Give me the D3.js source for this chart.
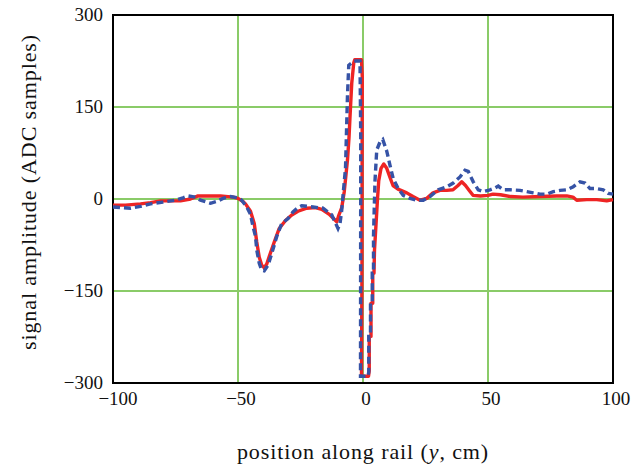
<!DOCTYPE html>
<html>
<head>
<meta charset="utf-8">
<script src="https://cdn.jsdelivr.net/npm/d3@7"></script>
<style>
  body { margin: 0; background: #fff; }
  svg { display: block; }
  .grid line { stroke: #8acb68; stroke-width: 2; }
  .tick-label { font-family: "Liberation Serif", "Times New Roman", serif; font-size: 19px; fill: #111; }
  .title { font-family: "Liberation Serif", "Times New Roman", serif; font-size: 22px; fill: #111; letter-spacing: 0.9px; }
</style>
</head>
<body>
<div id="chart"></div>
<script>
// tick values
var xTicks = [-100, -50, 0, 50, 100];
var yTicks = [-300, -150, 0, 150, 300];

// red (solid) trace: position (cm) and amplitude (ADC samples)
var redPos = [-100, -95, -89, -85, -81, -73, -69, -66, -60, -57, -52, -50, -48, -47, -45, -43.5, -42.5, -41.5, -40.5, -39.5,
  -38.5, -37.2, -35.5, -33.5, -31, -28.5, -26, -22.5, -19, -16.5, -13.5, -11.5, -10.5, -9.8, -8.5, -7.5, -6.8, -6.2, -5.6, -5.2,
  -4.5, -3.7, -3.3, -0.6, -0.3, -0.4, -0.6, 2.2, 2.5, 2.5, 3.2, 3.2, 3.9, 3.9, 4.4, 4.6, 5.3, 5.8, 6.3, 7.2,
  8.3, 9.5, 10.8, 12, 14, 17.5, 20, 22.8, 25.5, 28, 30.8, 33.5, 36, 38, 39.5, 41, 42.5, 44, 47, 50,
  52, 55, 59, 64, 71, 77.5, 81.5, 84, 85.5, 89.5, 93.5, 97.5, 100];
var redAmp = [-10, -10, -8, -6, -3, -3, 0, 5, 5, 5, 3, 1, -4, -8, -20, -40, -70, -95, -108, -112,
  -106, -90, -70, -48, -35, -26, -20, -15, -14, -17, -25, -33, -37, -28, -14, 12, 40, 64, 100, 134,
  189, 222, 227, 227, 200, -100, -289, -289, -280, -224, -224, -170, -170, -121, -121, -83, -35, 0, 30, 50,
  57, 50, 35, 22, 16, 10, 4, -2, 1, 10, 14, 14, 15, 22, 28, 22, 14, 6, 5, 6,
  8, 7, 4, 3, 4, 5, 5, 3, -2, -1, -1, -3, -1];

// blue (dashed) trace
var bluePos = [-100, -97, -93, -89, -85, -80, -75, -72, -70, -67, -65, -61, -58.5, -56, -53, -50, -48.5, -46.5, -45, -44,
  -43, -42.5, -41.5, -40.5, -39.5, -38, -36.5, -34.5, -32.5, -30, -28, -26, -24.5, -20, -16, -12.5, -10, -9.2, -8.5, -7.8,
  -7.0, -6.6, -6.2, -5.7, -3.6, -1.2, -0.9, -1.0, 2.0, 2.3, 2.3, 3.0, 3.0, 3.7, 3.7, 4.2, 4.2, 4.8, 5.5, 6.8,
  7.9, 9.5, 10.8, 12.1, 14.1, 16.1, 18.8, 21.5, 24.1, 26.8, 30.1, 33.5, 36.1, 38.8, 40.8, 42.1, 44.1, 46.1, 48.1, 50.8,
  52.8, 54.1, 56.1, 58.8, 62.8, 65.5, 68.1, 70.8, 73.5, 76.1, 78.8, 81.5, 84.1, 86.8, 88.8, 90.8, 93.5, 96.1, 98.1, 100];
var blueAmp = [-13, -14, -15, -12, -8, -5, -2, 2, 5, 3, -2, -7, -4, 1, 4, 2, -2, -13, -25, -45,
  -61, -83, -105, -116, -117, -108, -89, -61, -40, -32, -21, -14, -11, -13, -15, -26, -48, -40, -18, 15,
  50, 110, 170, 218, 225, 225, 100, -289, -289, -282, -224, -224, -170, -170, -121, -121, -60, 30, 80, 93,
  97, 78, 55, 33, 17, 6, 1, -2, -2, 4, 15, 20, 26, 36, 47, 45, 28, 15, 12, 15,
  18, 21, 15, 15, 14, 12, 10, 8, 8, 12, 14, 15, 20, 28, 26, 17, 17, 15, 9, 8];

var W = 640, H = 466;
var margin = {top: 15, right: 27, bottom: 83, left: 113};
var w = W - margin.left - margin.right;
var h = H - margin.top - margin.bottom;

var svg = d3.select("#chart").append("svg")
  .attr("width", W)
  .attr("height", H);

var g = svg.append("g")
  .attr("transform", "translate(" + margin.left + "," + margin.top + ")");

var x = d3.scaleLinear().domain([-100, 100]).range([0, w]);
var y = d3.scaleLinear().domain([-300, 300]).range([h, 0]);

// grid
var grid = g.append("g").attr("class", "grid");
grid.selectAll("line.vx")
  .data(xTicks)
  .enter().append("line")
  .attr("x1", function (d) { return x(d); })
  .attr("x2", function (d) { return x(d); })
  .attr("y1", 0)
  .attr("y2", h);
grid.selectAll("line.hy")
  .data(yTicks)
  .enter().append("line")
  .attr("x1", 0)
  .attr("x2", w)
  .attr("y1", function (d) { return y(d); })
  .attr("y2", function (d) { return y(d); });

// frame
g.append("rect")
  .attr("x", 0).attr("y", 0)
  .attr("width", w).attr("height", h)
  .attr("fill", "none")
  .attr("stroke", "#000")
  .attr("stroke-width", 2);

var line = d3.line()
  .x(function (d) { return x(d[0]); })
  .y(function (d) { return y(d[1]); });

g.append("path")
  .datum(d3.zip(redPos, redAmp))
  .attr("d", line)
  .attr("fill", "none")
  .attr("stroke", "#ee2424")
  .attr("stroke-width", 3.4)
  .attr("stroke-linejoin", "round");

g.append("path")
  .datum(d3.zip(bluePos, blueAmp))
  .attr("d", line)
  .attr("fill", "none")
  .attr("stroke", "#3653a6")
  .attr("stroke-width", 3.4)
  .attr("stroke-dasharray", "7,4");

// tick labels
function fmt(v) { return v < 0 ? "\u2212" + Math.abs(v) : String(v); }

g.selectAll("text.xt")
  .data(xTicks)
  .enter().append("text")
  .attr("class", "tick-label")
  .attr("x", function (d) { return x(d) + (d === -100 ? 5 : 3); })
  .attr("y", h + 22)
  .attr("text-anchor", "middle")
  .text(fmt);

g.selectAll("text.yt")
  .data(yTicks)
  .enter().append("text")
  .attr("class", "tick-label")
  .attr("x", -10)
  .attr("y", function (d) { return y(d) + 6; })
  .attr("text-anchor", "end")
  .text(fmt);

// axis titles
var xt = svg.append("text")
  .attr("class", "title")
  .attr("x", 363)
  .attr("y", 459)
  .attr("text-anchor", "middle");
xt.append("tspan").text("position along rail (");
xt.append("tspan").attr("font-style", "italic").text("y");
xt.append("tspan").text(", cm)");

svg.append("text")
  .attr("class", "title")
  .attr("transform", "translate(36,192) rotate(-90)")
  .attr("text-anchor", "middle")
  .text("signal amplitude (ADC samples)");
</script>
</body>
</html>
